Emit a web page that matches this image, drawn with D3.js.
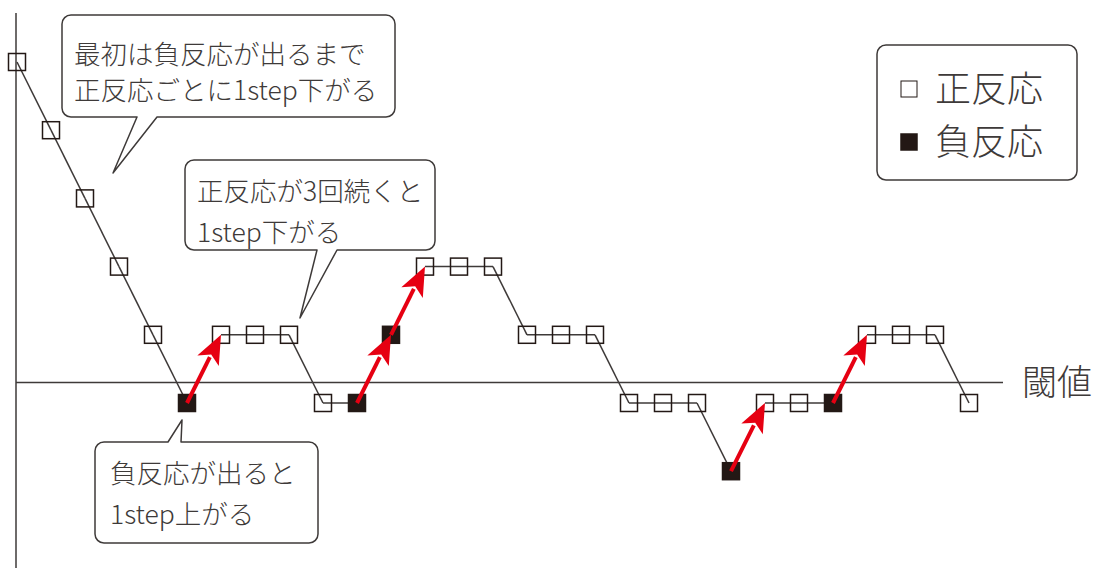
<!DOCTYPE html>
<html>
<head>
<meta charset="utf-8">
<script src="https://cdn.jsdelivr.net/npm/d3@7"></script>
<style>
  body { margin: 0; background: #fff; }
  svg text { font-family: "Noto Sans CJK JP", sans-serif; font-weight: 300; fill: #3e3a39; }
</style>
</head>
<body>
<script>
// trial-by-trial levels of the staircase (1 step = 1 level)
var levels = [5,4,3,2,1,0,1,1,1,0,0,1,2,2,2,1,1,1,0,0,0,-1,0,0,0,1,1,1,0];
// 1 = 正反応 (open), 0 = 負反応 (filled)
var responses = [1,1,1,1,1,0,1,1,1,1,0,0,1,1,1,1,1,1,1,1,1,0,1,1,0,1,1,1,1];
var threshold = 0.3;
var thresholdLabel = "閾値";
var legendLabels = ["正反応", "負反応"];
var notes = [
  ["最初は負反応が出るまで", "正反応ごとに1step下がる"],
  ["正反応が3回続くと", "1step下がる"],
  ["負反応が出ると", "1step上がる"]
];

var W = 1096, H = 570;
var ink = "#231815", grey = "#3e3a39", red = "#e60012";

var svg = d3.select("body").append("svg").attr("width", W).attr("height", H);

var x = d3.scaleLinear().domain([0, levels.length - 1]).range([17, 969]);
var y = d3.scaleLinear().domain([0, 5]).range([403, 62]);

var data = levels.map(function(l, i){ return {i: i, level: l, pos: responses[i]}; });

// axes
svg.append("line").attr("x1", 16).attr("x2", 16).attr("y1", 13).attr("y2", 568)
  .attr("stroke", grey).attr("stroke-width", 1.5);
svg.append("line").attr("x1", 16).attr("x2", 1003).attr("y1", y(threshold)).attr("y2", y(threshold))
  .attr("stroke", grey).attr("stroke-width", 1.5);
svg.append("text").attr("x", 1022).attr("y", y(threshold) + 12).attr("font-size", 35).text(thresholdLabel);

// connecting lines (not after a negative response: those get red arrows)
var segs = [], ups = [];
for (var i = 0; i < data.length - 1; i++) {
  if (data[i].pos) segs.push([data[i], data[i+1]]);
  else ups.push([data[i], data[i+1]]);
}
svg.append("g").selectAll("line").data(segs).enter().append("line")
  .attr("x1", function(d){ return x(d[0].i); }).attr("y1", function(d){ return y(d[0].level); })
  .attr("x2", function(d){ return x(d[1].i); }).attr("y2", function(d){ return y(d[1].level); })
  .attr("stroke", grey).attr("stroke-width", 1.5);

// markers
var ms = 17;
svg.append("g").selectAll("rect").data(data).enter().append("rect")
  .attr("x", function(d){ return x(d.i) - ms/2; })
  .attr("y", function(d){ return y(d.level) - ms/2; })
  .attr("width", ms).attr("height", ms)
  .attr("fill", function(d){ return d.pos ? "none" : ink; })
  .attr("stroke", ink).attr("stroke-width", 1.5);

// red arrows
var headLen = 29, headW = 12;
var ag = svg.append("g");
ups.forEach(function(d){
  var x0 = x(d[0].i), y0 = y(d[0].level), x1 = x(d[1].i), y1 = y(d[1].level);
  var dx = x1 - x0, dy = y1 - y0, len = Math.sqrt(dx*dx + dy*dy);
  var ux = dx/len, uy = dy/len;
  var bx = x1 - ux*headLen, by = y1 - uy*headLen;
  ag.append("line").attr("x1", x0).attr("y1", y0).attr("x2", bx + ux*4).attr("y2", by + uy*4)
    .attr("stroke", red).attr("stroke-width", 4);
  ag.append("path").attr("fill", red)
    .attr("d", "M" + x1 + "," + y1 + "L" + (bx - uy*headW) + "," + (by + ux*headW) +
               "L" + (bx + ux*7) + "," + (by + uy*7) +
               "L" + (bx + uy*headW) + "," + (by - ux*headW) + "Z");
});

// callouts
function callout(box, tail) {
  var p = d3.path(), r = 9;
  var x0 = box[0], y0 = box[1], x1 = box[2], y1 = box[3];
  p.moveTo(x0 + r, y0);
  if (tail.side === "top") { p.lineTo(tail.a, y0); p.lineTo(tail.tip[0], tail.tip[1]); p.lineTo(tail.b, y0); }
  p.lineTo(x1 - r, y0);
  p.arcTo(x1, y0, x1, y0 + r, r);
  p.lineTo(x1, y1 - r);
  p.arcTo(x1, y1, x1 - r, y1, r);
  if (tail.side === "bottom") { p.lineTo(tail.b, y1); p.lineTo(tail.tip[0], tail.tip[1]); p.lineTo(tail.a, y1); }
  p.lineTo(x0 + r, y1);
  p.arcTo(x0, y1, x0, y1 - r, r);
  p.lineTo(x0, y0 + r);
  p.arcTo(x0, y0, x0 + r, y0, r);
  p.closePath();
  return p.toString();
}
var boxes = [
  {box: [62, 15, 395, 117], tail: {side: "bottom", a: 137, b: 157, tip: [113, 173]}, tx: 74, ty: [64, 100]},
  {box: [185, 160, 435, 250], tail: {side: "bottom", a: 317, b: 337, tip: [300, 318]}, tx: 197, ty: [201, 242]},
  {box: [95, 442, 318, 543], tail: {side: "top", a: 168, b: 181, tip: [182, 420]}, tx: 110, ty: [483, 524]}
];
boxes.forEach(function(b, k){
  svg.append("path").attr("d", callout(b.box, b.tail))
    .attr("fill", "#fff").attr("stroke", grey).attr("stroke-width", 1.5).attr("stroke-linejoin", "round");
  notes[k].forEach(function(t, j){
    svg.append("text").attr("x", b.tx).attr("y", b.ty[j]).attr("font-size", 26.5).text(t);
  });
});

// legend
var lg = svg.append("g");
lg.append("rect").attr("x", 877).attr("y", 45).attr("width", 200).attr("height", 135).attr("rx", 9)
  .attr("fill", "#fff").attr("stroke", grey).attr("stroke-width", 1.5);
legendLabels.forEach(function(t, k){
  var cy = 89 + k*53;
  lg.append("rect").attr("x", 901).attr("y", cy - 8).attr("width", 16).attr("height", 16)
    .attr("fill", k === 0 ? "none" : ink).attr("stroke", ink).attr("stroke-width", k === 0 ? 1 : 1.5);
  lg.append("text").attr("x", 935).attr("y", cy + 13).attr("font-size", 36).text(t);
});
</script>
</body>
</html>
